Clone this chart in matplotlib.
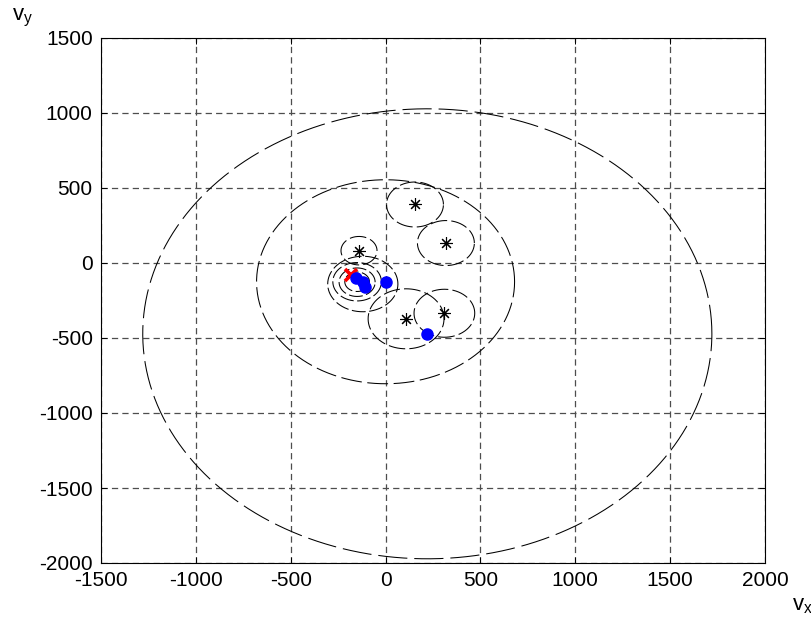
import numpy as np
import matplotlib
matplotlib.use("Agg")
import matplotlib.pyplot as plt

plt.rcParams['font.family'] = ['Liberation Sans', 'DejaVu Sans']
plt.rcParams['mathtext.fontset'] = 'custom'
plt.rcParams['mathtext.rm'] = 'Liberation Sans'
plt.rcParams['mathtext.it'] = 'Liberation Sans'
plt.rcParams['lines.scale_dashes'] = False

# ---- data ----
x_ticks = [-1500, -1000, -500, 0, 500, 1000, 1500, 2000]
y_ticks = [-2000, -1500, -1000, -500, 0, 500, 1000, 1500]

# blue dots (vx, vy)
dots_x = [-154, -119, -110, 0, 220]
dots_y = [-102, -125, -158, -125, -472]

# red cross
cross_x = [-183]
cross_y = [-80]

# asterisks
star_x = [155, 318, -140, 108, 310]
star_y = [390, 133, 82, -372, -335]

# big dashed circles (centered on blue dots)
big_cx = [220, 0]
big_cy = [-472, -125]
big_r = [1500, 680]

# small circles around asterisks
small_cx = [155, 318, -140, 108, 310]
small_cy = [390, 133, 82, -372, -335]
small_r = [150, 150, 95, 200, 160]

# cluster rings
ring_cx = [-150, -150, -150, -120]
ring_cy = [-125, -128, -125, -140]
ring_r = [65, 95, 128, 185]

fig = plt.figure(figsize=(8.12, 6.23), dpi=100)
ax = fig.add_axes([101/812, 60/623, 664/812, 525/623])

def circ(cx, cy, r, n=400):
    t = np.linspace(0, 2*np.pi, n)
    return cx + r*np.cos(t), cy + r*np.sin(t)

# large circles
for cx, cy, r, dsh in zip(big_cx, big_cy, big_r, [(0, (21, 5)), (0, (15, 4))]):
    xs, ys = circ(cx, cy, r)
    ax.plot(xs, ys, color='black', lw=0.75, linestyle=dsh)

for cx, cy, r in zip(small_cx, small_cy, small_r):
    xs, ys = circ(cx, cy, r)
    ax.plot(xs, ys, color='black', lw=0.75, linestyle=(2, (12, 3)))

for cx, cy, r in zip(ring_cx, ring_cy, ring_r):
    xs, ys = circ(cx, cy, r)
    ax.plot(xs, ys, color='black', lw=0.75, linestyle=(1, (10, 2.5)))

ax.plot(star_x, star_y, linestyle='none', marker=(8, 2, 0), markersize=9,
        color='black', markeredgewidth=0.8)
ax.plot(cross_x, cross_y, linestyle='none', marker='x', markersize=9,
        color='red', markeredgewidth=2.6)
ax.plot(dots_x, dots_y, linestyle='none', marker='o', markersize=8,
        color='#0000ff', markeredgecolor='#0000ff')

ax.set_xlim(-1500, 2000)
ax.set_ylim(-2000, 1500)
ax.set_xticks(x_ticks)
ax.set_yticks(y_ticks)
ax.set_xticklabels([str(v) for v in x_ticks])
ax.set_yticklabels([str(v) for v in y_ticks])
ax.grid(True, color='0.3', linestyle=(0, (4.5, 3)), linewidth=0.9)
ax.tick_params(direction='in', length=4, width=0.7, labelsize=15,
               top=True, right=True, pad=6)
for s in ax.spines.values():
    s.set_linewidth(0.8)

fig.text(12/812, 1 - 18/623, r'$\mathregular{v_y}$', fontsize=16,
         ha='left', va='center')
fig.text(792/812, 1 - 606/623, r'$\mathregular{v_x}$', fontsize=16,
         ha='left', va='center')

fig.savefig('out.png', dpi=100)
